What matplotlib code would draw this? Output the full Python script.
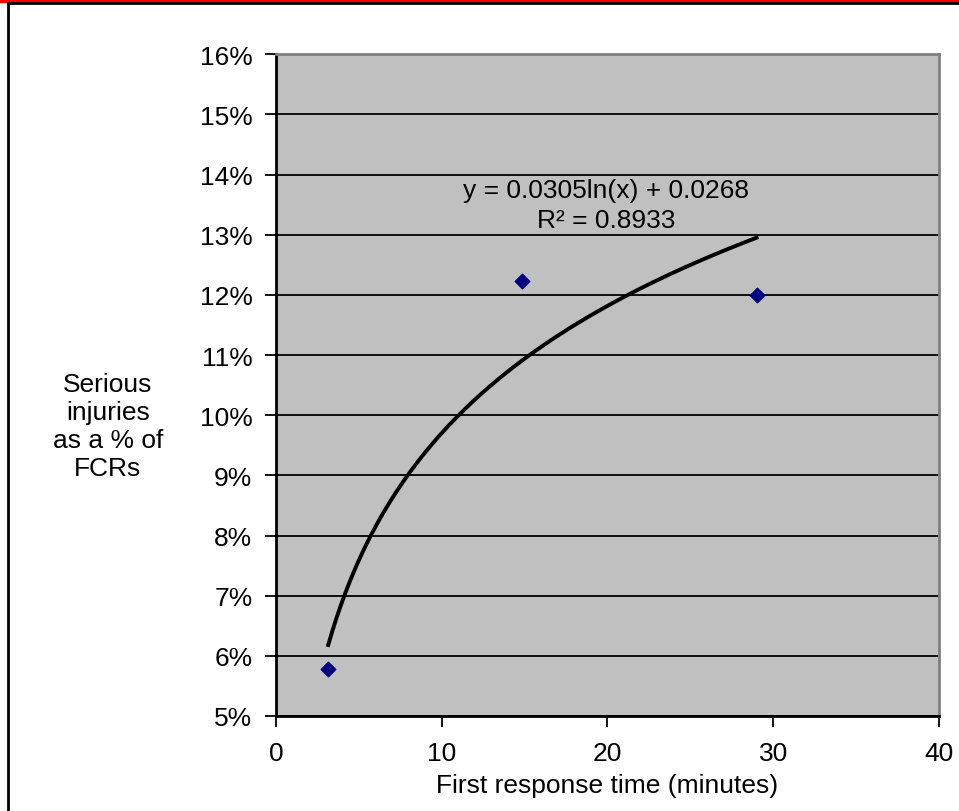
import matplotlib

matplotlib.use("Agg")
import matplotlib.pyplot as plt
import numpy as np
from matplotlib.lines import Line2D
from matplotlib.patches import Rectangle
from matplotlib.ticker import FuncFormatter, MultipleLocator

plt.rcParams["font.family"] = ["Liberation Sans", "DejaVu Sans"]

# response time (minutes) vs serious injuries share of FCRs
resp_minutes = [3.15, 14.85, 29.0]
serious_share = [0.0578, 0.1223, 0.1200]

# Excel logarithmic trendline as shown on the chart
trend_a = 0.0305
trend_b = 0.0268
trend_label = "y = 0.0305ln(x) + 0.0268\nR² = 0.8933"

FS = 19

fig = plt.figure(figsize=(9.59, 8.12), dpi=100)

# red strip and black frame around the chart object
fig.patches.append(Rectangle((0, 0.9965), 1, 0.0035, transform=fig.transFigure,
                             color="#ff0000", zorder=0))
fig.lines.append(Line2D([0.0085, 0.0085], [0, 0.995], transform=fig.transFigure,
                        color="black", linewidth=2))
fig.lines.append(Line2D([0.0085, 1], [0.995, 0.995], transform=fig.transFigure,
                        color="black", linewidth=2))

ax = fig.add_axes([0.2878, 0.117, 0.6913, 0.815])
ax.set_facecolor("#c0c0c0")

xx = np.linspace(min(resp_minutes), max(resp_minutes), 200)
ax.plot(xx, trend_a * np.log(xx) + trend_b, color="black", linewidth=2.8, zorder=3)
ax.scatter(resp_minutes, serious_share, marker="D", s=55, color="#000080",
           edgecolors="#000080", zorder=4)

ax.set_xlim(0, 40)
ax.set_ylim(0.05, 0.16)
ax.xaxis.set_major_locator(MultipleLocator(10))
ax.yaxis.set_major_locator(MultipleLocator(0.01))
ax.yaxis.set_major_formatter(FuncFormatter(lambda v, _: f"{v * 100:.0f}%"))
ax.grid(True, axis="y", color="black", linewidth=1.3)
ax.set_axisbelow(True)
ax.tick_params(axis="both", direction="out", length=8, width=1.3,
               labelsize=FS, color="black")
ax.tick_params(axis="y", pad=9)
ax.tick_params(axis="x", pad=10)

for side in ("left", "bottom"):
    ax.spines[side].set_color("black")
    ax.spines[side].set_linewidth(2)
for side in ("top", "right"):
    ax.spines[side].set_color("#808080")
    ax.spines[side].set_linewidth(2)

ax.set_xlabel("First response time (minutes)", fontsize=FS, labelpad=6)
ax.text(19.9, 0.1349, trend_label, ha="center", va="center", fontsize=FS,
        linespacing=1.3)

fig.text(0.1126, 0.474, "Serious\ninjuries\nas a % of\nFCRs", ha="center",
         va="center", fontsize=FS, linespacing=1.22)

fig.savefig("out.png", dpi=100)
